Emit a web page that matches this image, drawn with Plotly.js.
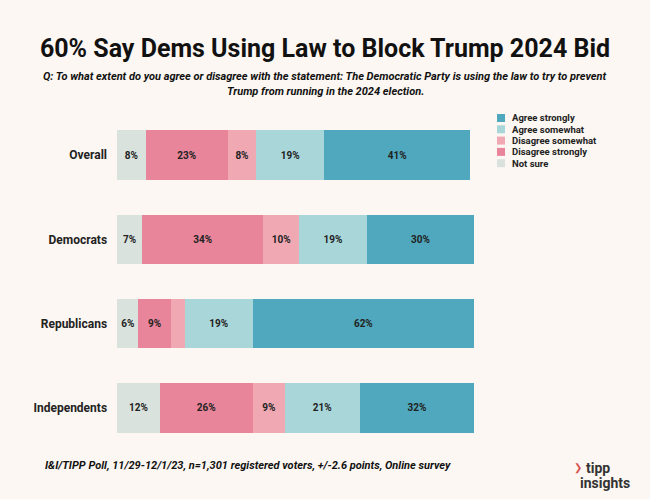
<!DOCTYPE html>
<html><head><meta charset="utf-8">
<script src="https://cdn.plot.ly/plotly-3.0.1.min.js"></script>
<style>body{margin:0;background:#fcf7f2;}#c{width:650px;height:499px;}</style>
</head><body><div id="c"></div>
<script>
const categories = ["Overall", "Democrats", "Republicans", "Independents"];
const seriesNames = ["Not sure", "Disagree strongly", "Disagree somewhat", "Agree somewhat", "Agree strongly"];
const notSure = [8, 7, 6, 12];
const disagreeStrongly = [23, 34, 9, 26];
const disagreeSomewhat = [8, 10, 4, 9];
const agreeSomewhat = [19, 19, 19, 21];
const agreeStrongly = [41, 30, 62, 32];
const hiddenLabels = [[], [], ["Republicans"], [], []];
const colors = ["#d9e2dd", "#e9859a", "#f0a8b3", "#a9d6d9", "#4fa8bd"];

const values = [notSure, disagreeStrongly, disagreeSomewhat, agreeSomewhat, agreeStrongly];
const font = "'Liberation Sans Narrow', 'Roboto', 'DejaVu Sans Condensed', sans-serif";
const traces = values.map((v, i) => ({
  type: "bar", orientation: "h", name: seriesNames[i],
  y: categories, x: v,
  text: v.map((val, j) => hiddenLabels[i].includes(categories[j]) ? "" : val + "%"),
  textposition: "inside", insidetextanchor: "middle", textangle: 0,
  textfont: {family: font, size: 10, color: "#222", weight: "bold"},
  marker: {color: colors[i], line: {width: 0}},
  hoverinfo: "none"
}));

const plotL = 117, plotW = 650 - 117 - 176, plotT = 113, plotH = 499 - 113 - 49;
function px(x) { return (x - plotL) / plotW; }
function py(y) { return (plotT + plotH - y) / plotH; }

const annotations = [];
const shapes = [];
function addText(text, x, y, size, anchor, fam, color) {
  annotations.push({xref: "paper", yref: "paper", x: px(x), y: py(y), xanchor: anchor, yanchor: "middle",
    text: text, showarrow: false, font: {family: fam || font, size: size, color: color || "#111"}});
}
addText("<b><i>Q: To what extent do you agree or disagree with the statement: The Democratic Party is using the law to try to prevent</i></b>", 325, 76, 11, "center");
addText("<b><i>Trump from running in the 2024 election.</i></b>", 325, 92, 11, "center");
addText("<b><i>I&I/TIPP Poll, 11/29-12/1/23, n=1,301 registered voters, +/-2.6 points, Online survey</i></b>", 43, 465, 11, "left");
addText("<b>tipp</b>", 584, 468, 14, "left", "Roboto, sans-serif", "#333");
addText("<b>insights</b>", 578, 483, 14, "left", "Roboto, sans-serif", "#333");
addText("<b>❯</b>", 572, 468, 10, "left", "DejaVu Sans, sans-serif", "#d9534f");

// legend (reversed order: Agree strongly at top)
for (let k = 0; k < seriesNames.length; k++) {
  const i = seriesNames.length - 1 - k;
  const yc = 118 + k * 11.3;
  shapes.push({type: "rect", xref: "paper", yref: "paper", x0: px(497), x1: px(505), y0: py(yc - 4), y1: py(yc + 4),
    fillcolor: colors[i], line: {width: 0}});
  addText("<b>" + seriesNames[i] + "</b>", 510, yc, 9.5, "left", font, "#222");
}

const layout = {
  width: 650, height: 499,
  paper_bgcolor: "#fcf7f2", plot_bgcolor: "#fcf7f2",
  barmode: "stack", bargap: 0.41,
  margin: {l: plotL, r: 176, t: plotT, b: 49},
  font: {family: font, color: "#222"},
  title: {text: "<b>60% Say Dems Using Law to Block Trump 2024 Bid</b>", x: 0.5, xref: "container", xanchor: "center",
          y: 1 - 48 / 499, yref: "container", yanchor: "middle",
          font: {family: font, size: 25, color: "#111"}},
  xaxis: {range: [0, 100], visible: false, fixedrange: true},
  yaxis: {autorange: "reversed", showgrid: false, zeroline: false, showline: false, ticks: "",
          tickfont: {family: font, size: 12, color: "#222", weight: "bold"}, ticksuffix: "   "},
  showlegend: false,
  annotations: annotations,
  shapes: shapes
};

Plotly.newPlot("c", traces, layout, {displayModeBar: false, staticPlot: true});
</script></body></html>
